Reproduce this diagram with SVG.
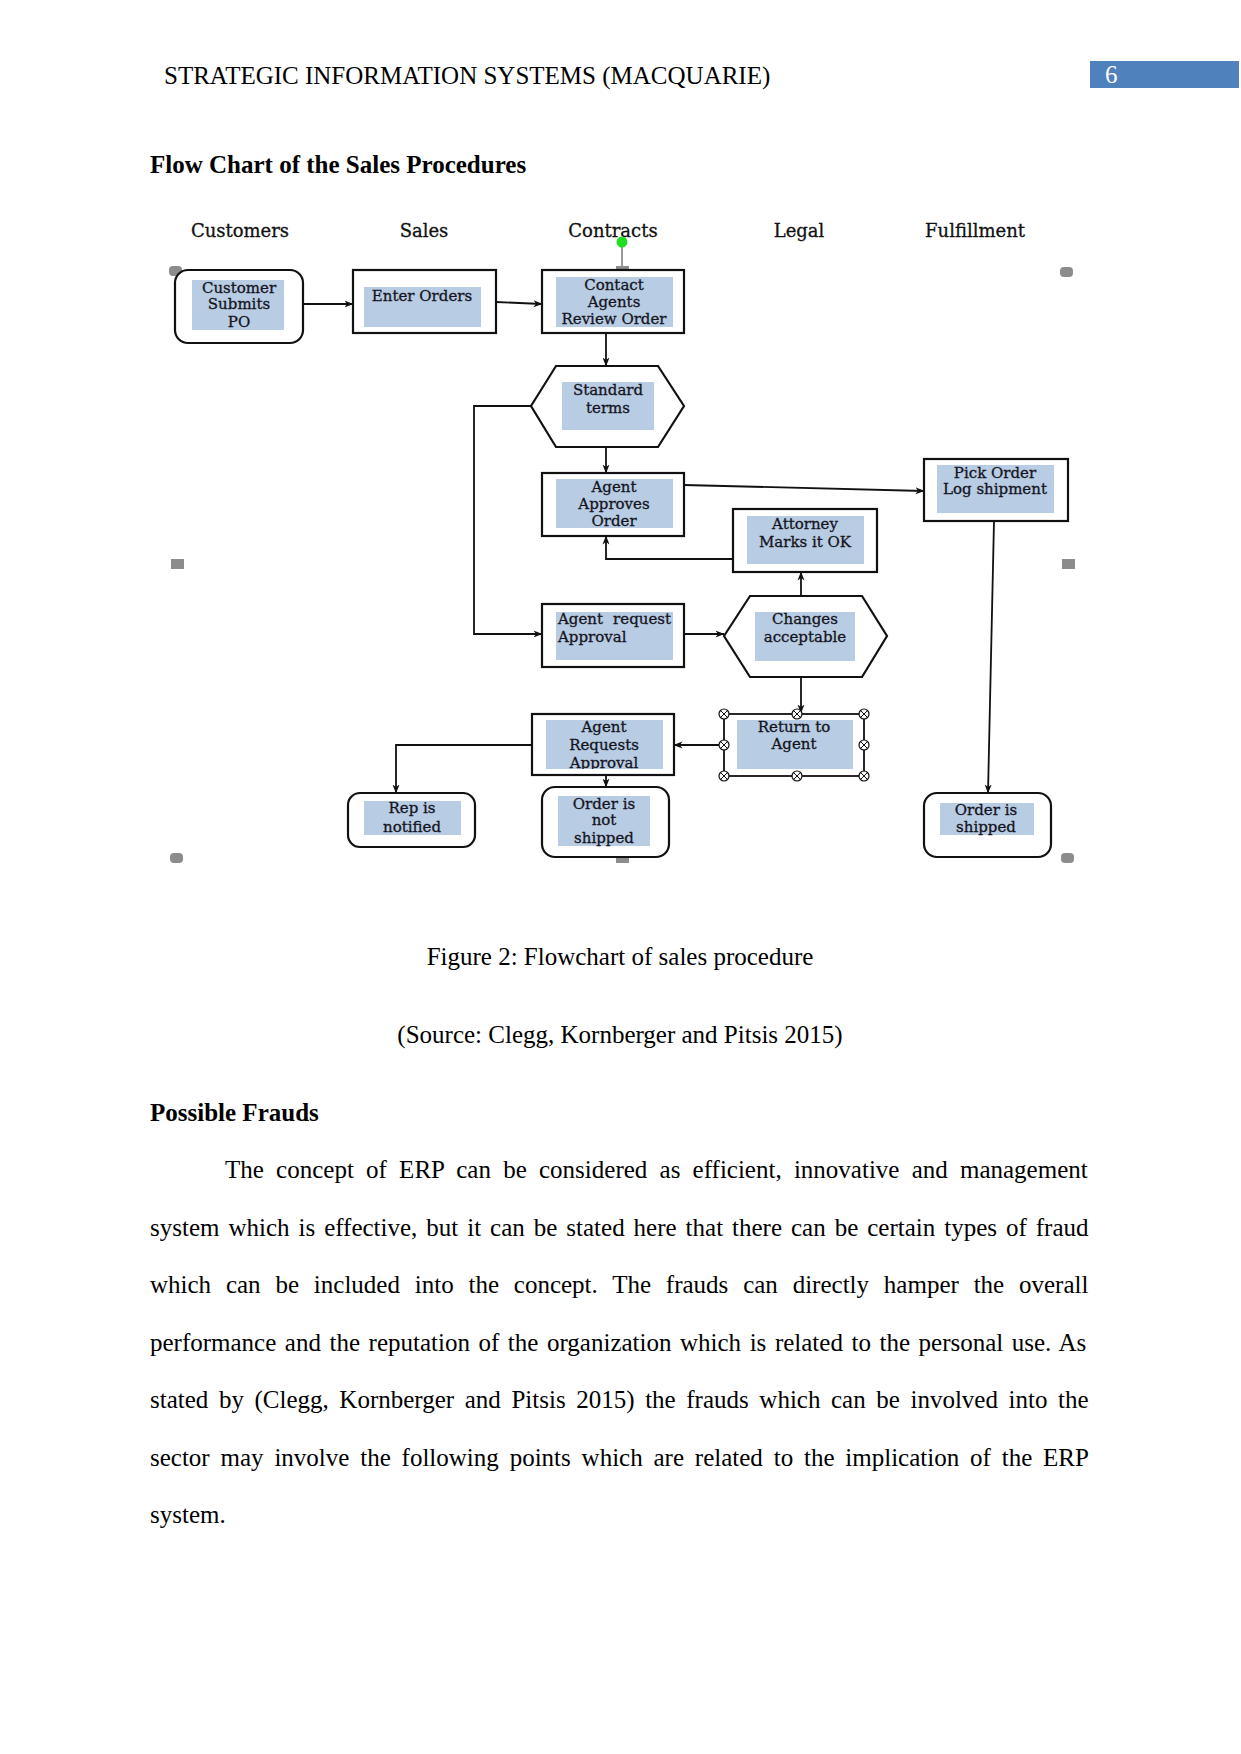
<svg xmlns="http://www.w3.org/2000/svg" width="1241" height="1754" viewBox="0 0 1241 1754">
<style>
.page{font-family:"Liberation Serif","Times New Roman",serif;font-size:25px;fill:#000}
.bold{font-weight:bold}
.col{font-family:"DejaVu Serif",serif;font-size:18px;fill:#111;stroke:#111;stroke-width:0.3;text-anchor:middle}
.lbl{font-family:"DejaVu Serif",serif;font-size:15px;fill:#141420;stroke:#141420;stroke-width:0.3;text-anchor:middle}
.box{fill:#fff;stroke:#111;stroke-width:2.2}
.inner{fill:#b8cce4}
.conn{fill:none;stroke:#111;stroke-width:1.8}
.mk{fill:#8c8c8c}
.hdl{fill:#fff;stroke:#111;stroke-width:1.2}
</style>
<defs>
<marker id="arr" markerWidth="9" markerHeight="8" refX="8.5" refY="4" orient="auto" markerUnits="userSpaceOnUse">
<path d="M0,0.5 L9,4 L0,7.5 L2.5,4 Z" fill="#111"/>
</marker>
<clipPath id="clipARA"><rect x="546" y="720" width="117" height="49"/></clipPath>
<g id="handle"><circle r="5" class="hdl"/><path d="M-3.5,-3.5 L3.5,3.5 M-3.5,3.5 L3.5,-3.5" stroke="#111" stroke-width="1"/></g>
</defs>
<rect width="1241" height="1754" fill="#fff"/>

<!-- page header -->
<text class="page" x="164" y="84">STRATEGIC INFORMATION SYSTEMS (MACQUARIE)</text>
<rect x="1090" y="61" width="149" height="27" fill="#4f81bd"/>
<text class="page" x="1105" y="83" style="fill:#fff">6</text>
<text class="page bold" x="150" y="173">Flow Chart of the Sales Procedures</text>

<!-- column headers -->
<g id="lanes">
<text class="col" x="240" y="237">Customers</text>
<text class="col" x="424" y="237">Sales</text>
<text class="col" x="613" y="237">Contracts</text>
<text class="col" x="799" y="237">Legal</text>
<text class="col" x="975" y="237">Fulfillment</text>
</g>

<!-- page markers -->
<g id="markers">
<rect class="mk" x="169" y="266" width="13" height="10" rx="4"/>
<rect class="mk" x="1060" y="267" width="13" height="10" rx="4"/>
<rect class="mk" x="171" y="559" width="13" height="10"/>
<rect class="mk" x="1062" y="559" width="13" height="10"/>
<rect class="mk" x="170" y="853" width="13" height="10" rx="4"/>
<rect class="mk" x="1061" y="853" width="13" height="10" rx="4"/>
<rect class="mk" x="616" y="853" width="13" height="10"/>
<line x1="622" y1="242" x2="622" y2="267" stroke="#777" stroke-width="1.5"/>
<rect class="mk" x="616" y="266" width="13" height="10"/>
<circle cx="622" cy="242" r="5.5" fill="#22dd22"/>
</g>

<!-- connectors -->
<g id="connectors">
<path class="conn" d="M303,304 L353,304" marker-end="url(#arr)"/>
<path class="conn" d="M496,302 L542,304" marker-end="url(#arr)"/>
<path class="conn" d="M606,333 L606,366" marker-end="url(#arr)"/>
<path class="conn" d="M606,447 L606,473" marker-end="url(#arr)"/>
<path class="conn" d="M531,406 L474,406 L474,634 L542,634" marker-end="url(#arr)"/>
<path class="conn" d="M684,485 L924,491" marker-end="url(#arr)"/>
<path class="conn" d="M733,559 L606,559 L606,536" marker-end="url(#arr)"/>
<path class="conn" d="M684,634 L724,634" marker-end="url(#arr)"/>
<path class="conn" d="M801,596 L801,572" marker-end="url(#arr)"/>
<path class="conn" d="M801,677 L801,713" marker-end="url(#arr)"/>
<path class="conn" d="M724,745 L674,745" marker-end="url(#arr)"/>
<path class="conn" d="M532,745 L396,745 L396,793" marker-end="url(#arr)"/>
<path class="conn" d="M606,775 L606,787" marker-end="url(#arr)"/>
<path class="conn" d="M994,521 L988,793" marker-end="url(#arr)"/>
</g>

<!-- nodes -->
<g id="customer-submits-po">
<rect class="box" x="175" y="270" width="128" height="73" rx="13"/>
<rect class="inner" x="192" y="280" width="92" height="50"/>
<text class="lbl" x="239" y="293">Customer</text>
<text class="lbl" x="239" y="309">Submits</text>
<text class="lbl" x="239" y="327">PO</text>
</g>

<g id="enter-orders">
<rect class="box" x="353" y="270" width="143" height="63"/>
<rect class="inner" x="364" y="287" width="117" height="40"/>
<text class="lbl" x="422" y="301">Enter Orders</text>
</g>

<g id="contact-agents">
<rect class="box" x="542" y="270" width="142" height="63"/>
<rect class="inner" x="556" y="277" width="117" height="50"/>
<text class="lbl" x="614" y="290">Contact</text>
<text class="lbl" x="614" y="307">Agents</text>
<text class="lbl" x="614" y="324">Review Order</text>
</g>

<g id="standard-terms">
<polygon class="box" points="531,406 556,366 658,366 684,406 658,447 556,447"/>
<rect class="inner" x="562" y="382" width="92" height="48"/>
<text class="lbl" x="608" y="395">Standard</text>
<text class="lbl" x="608" y="413">terms</text>
</g>

<g id="agent-approves-order">
<rect class="box" x="542" y="473" width="142" height="63"/>
<rect class="inner" x="556" y="479" width="117" height="49"/>
<text class="lbl" x="614" y="492">Agent</text>
<text class="lbl" x="614" y="509">Approves</text>
<text class="lbl" x="614" y="526">Order</text>
</g>

<g id="pick-order">
<rect class="box" x="924" y="459" width="144" height="62"/>
<rect class="inner" x="937" y="465" width="117" height="48"/>
<text class="lbl" x="995" y="478">Pick Order</text>
<text class="lbl" x="995" y="494">Log shipment</text>
</g>

<g id="attorney">
<rect class="box" x="733" y="509" width="144" height="63"/>
<rect class="inner" x="747" y="516" width="117" height="48"/>
<text class="lbl" x="805" y="529">Attorney</text>
<text class="lbl" x="805" y="547">Marks it OK</text>
</g>

<g id="agent-request-approval">
<rect class="box" x="542" y="604" width="142" height="63"/>
<rect class="inner" x="556" y="612" width="117" height="48"/>
<text class="lbl" style="text-anchor:start" y="624"><tspan x="558">Agent</tspan><tspan x="671" style="text-anchor:end">request</tspan></text>
<text class="lbl" style="text-anchor:start" x="558" y="642">Approval</text>
</g>

<g id="changes-acceptable">
<polygon class="box" points="724,636 750,596 862,596 887,636 862,677 750,677"/>
<rect class="inner" x="755" y="612" width="100" height="49"/>
<text class="lbl" x="805" y="624">Changes</text>
<text class="lbl" x="805" y="642">acceptable</text>
</g>

<g id="return-to-agent">
<rect x="724" y="714" width="140" height="62" fill="#fff" stroke="#111" stroke-width="1.8"/>
<rect class="inner" x="737" y="720" width="116" height="49"/>
<text class="lbl" x="794" y="732">Return to</text>
<text class="lbl" x="794" y="749">Agent</text>
<use href="#handle" x="724" y="714"/>
<use href="#handle" x="797" y="714"/>
<use href="#handle" x="864" y="714"/>
<use href="#handle" x="724" y="745"/>
<use href="#handle" x="864" y="745"/>
<use href="#handle" x="724" y="776"/>
<use href="#handle" x="797" y="776"/>
<use href="#handle" x="864" y="776"/>
</g>

<g id="agent-requests-approval">
<rect class="box" x="532" y="714" width="142" height="61"/>
<rect class="inner" x="546" y="720" width="117" height="49"/>
<g clip-path="url(#clipARA)">
<text class="lbl" x="604" y="732">Agent</text>
<text class="lbl" x="604" y="750">Requests</text>
<text class="lbl" x="604" y="768">Approval</text>
</g>
</g>

<g id="rep-notified">
<rect class="box" x="348" y="793" width="127" height="54" rx="12"/>
<rect class="inner" x="364" y="801" width="97" height="34"/>
<text class="lbl" x="412" y="813">Rep is</text>
<text class="lbl" x="412" y="832">notified</text>
</g>

<g id="order-not-shipped">
<rect class="box" x="542" y="787" width="127" height="70" rx="13"/>
<rect class="inner" x="558" y="796" width="92" height="50"/>
<text class="lbl" x="604" y="809">Order is</text>
<text class="lbl" x="604" y="825">not</text>
<text class="lbl" x="604" y="843">shipped</text>
</g>

<g id="order-shipped">
<rect class="box" x="924" y="793" width="127" height="64" rx="13"/>
<rect class="inner" x="940" y="803" width="94" height="32"/>
<text class="lbl" x="986" y="815">Order is</text>
<text class="lbl" x="986" y="832">shipped</text>
</g>

<!-- caption and body text -->
<text class="page" x="620" y="965" text-anchor="middle">Figure 2: Flowchart of sales procedure</text>
<text class="page" x="620" y="1043" text-anchor="middle">(Source: Clegg, Kornberger and Pitsis 2015)</text>
<text class="page bold" x="150" y="1121">Possible Frauds</text>
<text class="page" x="225" y="1178" word-spacing="5.98">The concept of ERP can be considered as efficient, innovative and management</text>
<text class="page" x="150" y="1236" word-spacing="2.72">system which is effective, but it can be stated here that there can be certain types of fraud</text>
<text class="page" x="150" y="1293" word-spacing="8.57">which can be included into the concept. The frauds can directly hamper the overall</text>
<text class="page" x="150" y="1351" word-spacing="2.3">performance and the reputation of the organization which is related to the personal use. As</text>
<text class="page" x="150" y="1408" word-spacing="4.34">stated by (Clegg, Kornberger and Pitsis 2015) the frauds which can be involved into the</text>
<text class="page" x="150" y="1466" word-spacing="4.58">sector may involve the following points which are related to the implication of the ERP</text>
<text class="page" x="150" y="1523">system.</text>
</svg>
